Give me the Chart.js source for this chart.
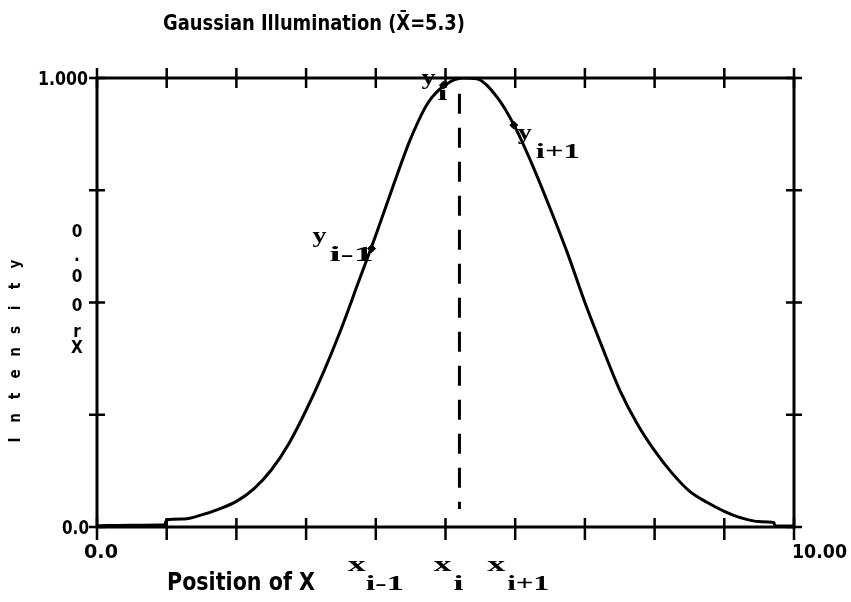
<!DOCTYPE html>
<html>
<head>
<meta charset="utf-8">
<title>Gaussian Illumination</title>
<script src="https://cdn.jsdelivr.net/npm/chart.js@4.4.1/dist/chart.umd.min.js"></script>
<style>
    html, body { margin: 0; padding: 0; background: #fff; }
    #wrap { width: 851px; height: 602px; position: relative; }
</style>
</head>
<body>
<div id="wrap"><canvas id="gauss"></canvas></div>
<script>
// Intensity profile sampled along X
const posX = [0, 0.5, 0.97, 1.0, 1.25, 1.5, 1.75, 2.0, 2.25, 2.5, 2.75, 3.0, 3.25, 3.5, 3.75, 4.0,
    4.25, 4.5, 4.75, 5.0, 5.25, 5.45, 5.75, 6.0, 6.25, 6.5, 6.75, 7.0, 7.25, 7.5, 7.75, 8.0,
    8.25, 8.5, 8.75, 9.0, 9.25, 9.5, 9.71, 9.73, 10];
const intensity = [0.003, 0.004, 0.005, 0.016, 0.018, 0.027, 0.04, 0.057, 0.085, 0.127, 0.185, 0.26, 0.345, 0.44, 0.545, 0.65,
    0.76, 0.865, 0.945, 0.985, 1.0, 0.998, 0.955, 0.89, 0.805, 0.71, 0.61, 0.5, 0.4, 0.305, 0.23, 0.17,
    0.12, 0.08, 0.055, 0.035, 0.02, 0.012, 0.01, 0.002, 0.002];

// samples y(i-1), y(i), y(i+1)
const markX = [3.94, 4.97, 5.98];
const markY = [0.62, 0.984, 0.895];
const subs = ['i-1', 'i', 'i+1'];

// position x(i) and extent of the dashed marker
const xiPos = 5.2;
const dashY = [0.965, 0.04];

const xTicks = [0, 1, 2, 3, 4, 5, 6, 7, 8, 9, 10];
const yTicks = [0, 0.25, 0.5, 0.75, 1];

const PLOT = '"DejaVu Sans Condensed", "DejaVu Sans", sans-serif';
const TYPE = '"Liberation Serif", "DejaVu Serif", serif';

// draw text squeezed/stretched to a given width
function fitText(ctx, str, left, base, width, font) {
    ctx.font = font;
    const w = ctx.measureText(str).width;
    ctx.save();
    ctx.translate(left, base);
    ctx.scale(width / w, 1);
    ctx.textAlign = 'left';
    ctx.textBaseline = 'alphabetic';
    ctx.fillText(str, 0, 0);
    ctx.restore();
}

const plotterFrame = {
    id: 'plotterFrame',
    afterDatasetsDraw(chart) {
        const { ctx, chartArea: a, scales: { x, y } } = chart;
        ctx.save();
        ctx.strokeStyle = '#000';
        ctx.fillStyle = '#000';

        // frame
        ctx.lineWidth = 3;
        ctx.strokeRect(a.left, a.top, a.right - a.left, a.bottom - a.top);

        // crossing ticks
        ctx.lineWidth = 2.5;
        ctx.beginPath();
        xTicks.forEach(v => {
            const px = x.getPixelForValue(v);
            ctx.moveTo(px, a.top - 10); ctx.lineTo(px, a.top + 10);
            ctx.moveTo(px, a.bottom - 9); ctx.lineTo(px, a.bottom + 13);
        });
        yTicks.forEach(v => {
            const py = y.getPixelForValue(v);
            ctx.moveTo(a.left - 8, py); ctx.lineTo(a.left + 8, py);
            ctx.moveTo(a.right - 8, py); ctx.lineTo(a.right + 8, py);
        });
        ctx.stroke();

        // title
        fitText(ctx, 'Gaussian Illumination (X\u0304=5.3)', 163, 30, 302, 'bold 21px ' + PLOT);

        // axis values
        const y1 = y.getPixelForValue(1), y0 = y.getPixelForValue(0);
        fitText(ctx, '1.000', a.left - 59, y1 + 7, 50, 'bold 19px ' + PLOT);
        fitText(ctx, '0.0', a.left - 35, y0 + 7, 27, 'bold 19px ' + PLOT);
        fitText(ctx, '0.0', x.getPixelForValue(0) - 13, a.bottom + 31, 34, 'bold 20px ' + PLOT);
        fitText(ctx, '10.00', x.getPixelForValue(10) - 2, a.bottom + 31, 55, 'bold 20px ' + PLOT);
        fitText(ctx, 'Position of X', 167, 590, 148, 'bold 24px ' + PLOT);

        // stacked characters beside the mid tick
        ctx.font = 'bold 17px ' + PLOT;
        ctx.textAlign = 'center';
        ctx.textBaseline = 'middle';
        const ym = y.getPixelForValue(0.5);
        [['0', -70], ['.', -46], ['0', -25], ['0', 4], ['r', 30], ['X', 46]].forEach(([c, dy]) => {
            ctx.fillText(c, a.left - 20, ym + dy);
        });

        // rotated axis title, one letter at a time
        ctx.font = 'bold 15px ' + PLOT;
        'Intensity'.split('').forEach((c, i) => {
            ctx.save();
            ctx.translate(16, 440 - i * 22);
            ctx.rotate(-Math.PI / 2);
            ctx.fillText(c, 0, 0);
            ctx.restore();
        });

        // labels of the sampled points
        const yOff = [[-59, -7, -42, 12, 44], [-22, -1, -6, 15, 10], [4, 14, 22, 33, 44]];
        markX.forEach((mx, i) => {
            const px = x.getPixelForValue(mx), py = y.getPixelForValue(markY[i]);
            const o = yOff[i];
            fitText(ctx, 'y', px + o[0], py + o[1], 14, 'bold 22px ' + TYPE);
            fitText(ctx, subs[i], px + o[2], py + o[3], o[4], 'bold 21px ' + TYPE);
        });

        // x(i-1), x(i), x(i+1) under the axis
        const xOff = [[-28, -10, 38], [-12, 8, 10], [-28, -8, 42]];
        markX.forEach((mx, i) => {
            const px = x.getPixelForValue(Math.round(mx));
            const o = xOff[i];
            fitText(ctx, 'x', px + o[0], 571, 18, 'bold 22px ' + TYPE);
            fitText(ctx, subs[i], px + o[1], 590, o[2], 'bold 21px ' + TYPE);
        });

        ctx.restore();
    }
};

new Chart(document.getElementById('gauss'), {
    type: 'scatter',
    data: {
        datasets: [
            {
                data: posX.map((v, i) => ({ x: v, y: intensity[i] })),
                showLine: true,
                borderColor: '#000',
                borderWidth: 3,
                pointRadius: 0,
                cubicInterpolationMode: 'monotone'
            },
            {
                data: dashY.map(v => ({ x: xiPos, y: v })),
                showLine: true,
                borderColor: '#000',
                borderWidth: 3,
                borderDash: [20, 14],
                pointRadius: 0
            },
            {
                data: markX.map((v, i) => ({ x: v, y: markY[i] })),
                showLine: false,
                pointStyle: 'rectRot',
                pointRadius: 4,
                backgroundColor: '#000',
                borderColor: '#000'
            }
        ]
    },
    options: {
        responsive: true,
        maintainAspectRatio: false,
        animation: false,
        devicePixelRatio: 1,
        layout: { padding: { left: 97, right: 57, top: 78, bottom: 75 } },
        plugins: { legend: { display: false }, tooltip: { enabled: false } },
        scales: {
            x: { type: 'linear', min: 0, max: 10, display: false },
            y: { type: 'linear', min: 0, max: 1, display: false }
        }
    },
    plugins: [plotterFrame]
});
</script>
</body>
</html>
